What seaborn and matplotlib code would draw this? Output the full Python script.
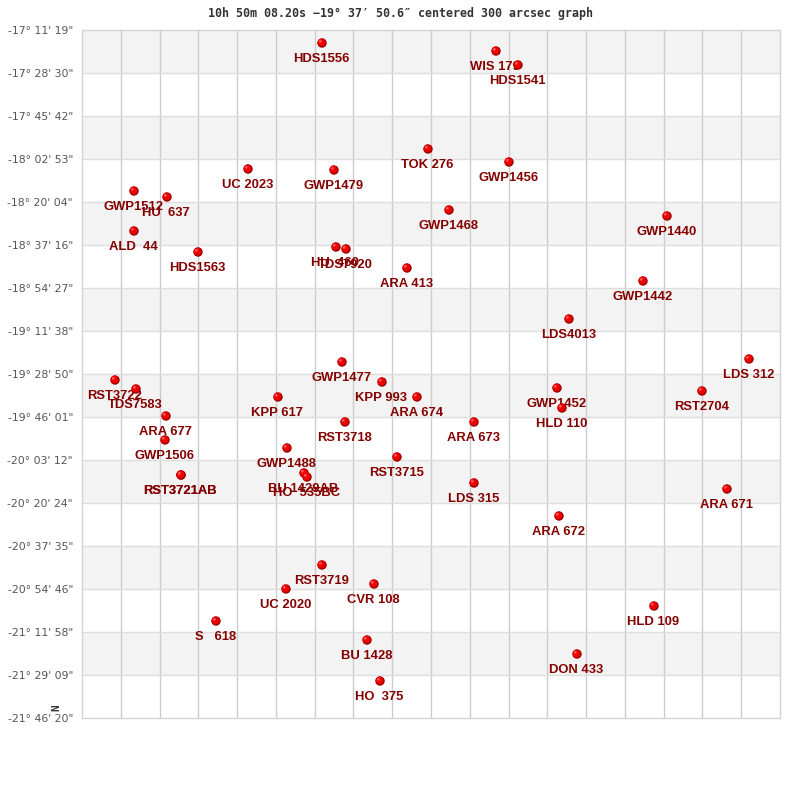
import matplotlib
matplotlib.use("Agg")
from matplotlib import pyplot as plt
from matplotlib.transforms import ScaledTranslation
import pandas as pd
import seaborn as sns

# Star names, with offsets from the top left corner of the field (arcmin)
names = ["HDS1556", "WIS 179", "HDS1541", "TOK 276", "GWP1456", "UC 2023", "GWP1479",
         "GWP1512", "HU  637", "GWP1468", "GWP1440", "ALD  44", "HU  460", "TDS7920",
         "HDS1563", "ARA 413", "GWP1442", "LDS4013", "LDS 312", "GWP1477", "RST3722",
         "KPP 993", "GWP1452", "TDS7583", "RST2704", "KPP 617", "ARA 674", "HLD 110",
         "ARA 677", "RST3718", "ARA 673", "GWP1506", "GWP1488", "RST3715", "BU 1429AB",
         "HO  535BC", "RST3721AB", "RST3721AB", "LDS 315", "ARA 671", "ARA 672", "RST3719",
         "CVR 108", "UC 2020", "S   618", "HLD 109", "BU 1428", "DON 433", "HO  375"]
ra_off = [96.0, 165.6, 174.4, 138.4, 170.8, 66.4, 100.8,
          20.8, 34.0, 146.8, 234.0, 20.8, 101.6, 105.6,
          46.4, 130.0, 224.4, 194.8, 266.8, 104.0, 13.2,
          120.0, 190.0, 21.6, 248.0, 78.4, 134.0, 192.0,
          33.6, 105.2, 156.8, 33.2, 82.0, 126.0, 88.8,
          90.0, 39.6, 39.6, 156.8, 258.0, 190.8, 96.0,
          116.8, 81.6, 53.6, 228.8, 114.0, 198.0, 119.2]
dec_off = [5.2, 8.4, 14.0, 47.6, 52.8, 55.6, 56.0,
           64.4, 66.8, 72.0, 74.4, 80.4, 86.8, 87.6,
           88.8, 95.2, 100.4, 115.6, 131.6, 132.8, 140.0,
           140.8, 143.2, 143.6, 144.4, 146.8, 146.8, 151.2,
           154.4, 156.8, 156.8, 164.0, 167.2, 170.8, 177.2,
           178.8, 178.0, 178.0, 181.2, 183.6, 194.4, 214.0,
           221.6, 223.6, 236.4, 230.4, 244.0, 249.6, 260.4]

dec_labels = ["-17° 11' 19\"", "-17° 28' 30\"", "-17° 45' 42\"", "-18° 02' 53\"",
              "-18° 20' 04\"", "-18° 37' 16\"", "-18° 54' 27\"", "-19° 11' 38\"",
              "-19° 28' 50\"", "-19° 46' 01\"", "-20° 03' 12\"", "-20° 20' 24\"",
              "-20° 37' 35\"", "-20° 54' 46\"", "-21° 11' 58\"", "-21° 29' 09\"",
              "-21° 46' 20\""]
title = "10h 50m 08.20s −19° 37′ 50.6″ centered 300 arcsec graph"

x_span = 279.2
y_span = 275.2
n_x = 18
n_y = len(dec_labels) - 1

df = pd.DataFrame({"name": names, "ra": ra_off, "dec": dec_off})

sns.set_theme(style="white")
plt.rcParams["font.family"] = ["Liberation Sans", "DejaVu Sans"]

fig = plt.figure(figsize=(8, 8), dpi=100)
ax = fig.add_axes([82 / 800, 82 / 800, 698 / 800, 688 / 800])

# Alternating bands, first one at the top
for i in range(0, n_y, 2):
    ax.axhspan(i * y_span / n_y, (i + 1) * y_span / n_y, color="#f3f3f3", lw=0, zorder=0)

for i in range(1, n_x):
    ax.axvline(i * x_span / n_x, color="#cccccc", lw=1.0, zorder=1)
for i in range(1, n_y):
    ax.axhline(i * y_span / n_y, color="#dedede", lw=1.0, zorder=1)

# Stars: dark base, red body, small highlight
sns.scatterplot(data=df, x="ra", y="dec", s=46, color="#a00000", edgecolor="none", ax=ax, zorder=4)
shift = ScaledTranslation(-0.4 / 72, 0.4 / 72, fig.dpi_scale_trans)
sns.scatterplot(data=df, x="ra", y="dec", s=30, color="#ee0000", edgecolor="none", ax=ax, zorder=5,
                transform=ax.transData + shift)
shift2 = ScaledTranslation(-1.2 / 72, 1.2 / 72, fig.dpi_scale_trans)
sns.scatterplot(data=df, x="ra", y="dec", s=4, color="#ff5a5a", edgecolor="none", ax=ax, zorder=6,
                transform=ax.transData + shift2)

for row in df.itertuples():
    ax.annotate(row.name, (row.ra, row.dec), xytext=(-0.5, -11.5), textcoords="offset points",
                ha="center", va="center", fontsize=9.4, fontweight="bold", color="#850000",
                zorder=3)

ax.set_xlim(0, x_span)
ax.set_ylim(y_span, 0)
ax.set_xlabel("")
ax.set_ylabel("")
ax.set_xticks([])
ax.set_yticks([i * y_span / n_y for i in range(n_y + 1)])
ax.set_yticklabels(dec_labels, family="DejaVu Sans", fontsize=7.85, color="#555555")
ax.tick_params(axis="y", length=0, pad=6.5)
for spine in ax.spines.values():
    spine.set_color("#d4d4d4")
    spine.set_linewidth(1.0)

fig.text(400 / 800, 1 - 13 / 800, title, ha="center", va="center", family="DejaVu Sans Mono",
         fontweight="bold", fontsize=8.35, color="#333333")
fig.text(56 / 800, 1 - 708 / 800, "N", rotation=90, ha="center", va="center",
         family="DejaVu Sans Mono", fontweight="bold", fontsize=8, color="#333333")

fig.savefig("out.png", dpi=100)
